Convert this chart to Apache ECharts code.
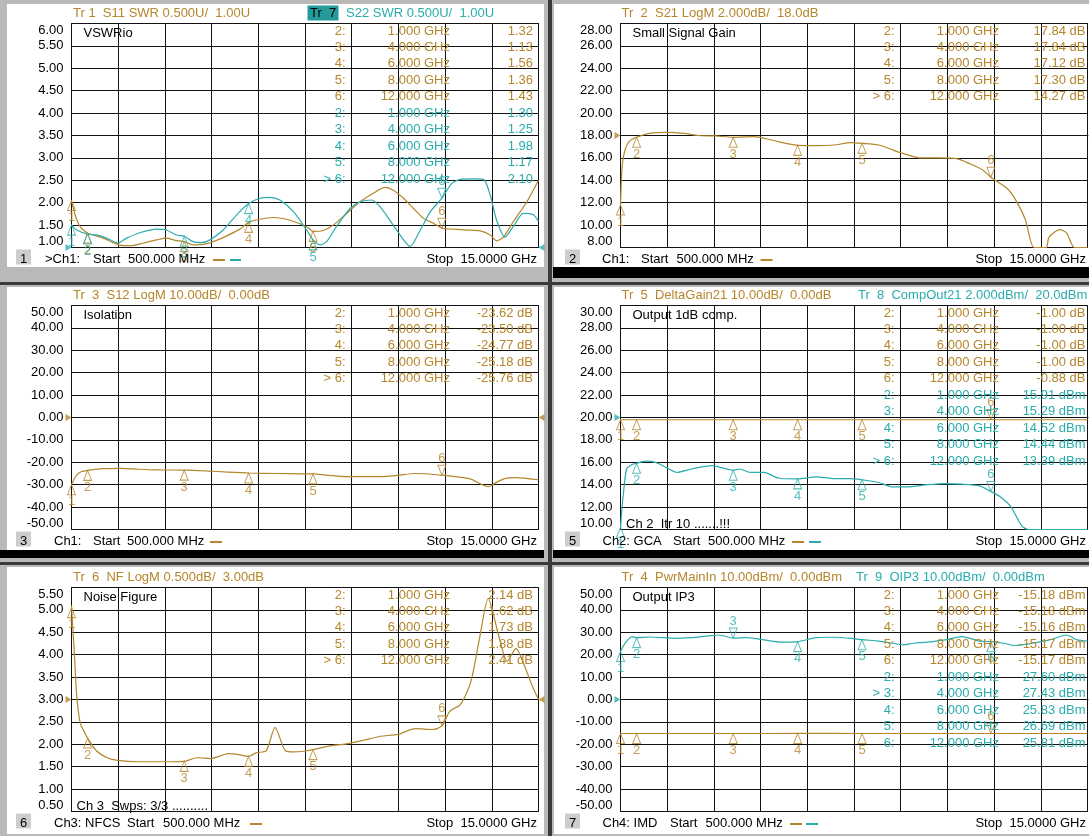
<!DOCTYPE html>
<html><head><meta charset="utf-8">
<script src="https://cdn.jsdelivr.net/npm/echarts@6.0.0/dist/echarts.min.js"></script>
<style>
html,body{margin:0;padding:0;background:#b9b9b9;}
#wrap{position:relative;width:1089px;height:836px;overflow:hidden;background:#b9b9b9;}
.bg{position:absolute;}
.w{position:absolute;background:#fff;}
#chart{position:absolute;left:0;top:0;width:1089px;height:836px;}
</style></head>
<body><div id="wrap">
<div class="bg" style="left:548px;top:0;width:4px;height:836px;background:#3a3a3a"></div>
<div class="bg" style="left:0;top:282px;width:1089px;height:3px;background:#3a3a3a"></div>
<div class="bg" style="left:0;top:562px;width:1089px;height:3px;background:#3a3a3a"></div>
<div class="bg" style="left:553px;top:267px;width:536px;height:11px;background:#000"></div>
<div class="bg" style="left:0;top:550px;width:544px;height:8px;background:#000"></div>
<div class="bg" style="left:553px;top:550px;width:536px;height:8px;background:#000"></div>
<div class="w" style="left:7px;top:4px;width:537px;height:263px"></div>
<div class="w" style="left:554px;top:4px;width:535px;height:263px"></div>
<div class="w" style="left:7px;top:287px;width:537px;height:263px"></div>
<div class="w" style="left:554px;top:287px;width:535px;height:263px"></div>
<div class="w" style="left:7px;top:567px;width:537px;height:267px"></div>
<div class="w" style="left:554px;top:567px;width:535px;height:267px"></div>
<div id="chart"></div>
</div>
<script>
// ---------------- DATA ----------------
const markerFreqs = [0.5, 1, 4, 6, 8, 12];

// Panel 1 : VSWR
const s11Freq = [0.5,0.6,0.76,1.0,1.17,1.48,1.79,2.1,2.36,2.73,3.14,3.45,3.71,4.0,4.28,4.59,4.9,5.32,5.73,6.0,6.35,6.77,7.18,7.59,7.85,8.0,8.32,8.63,9.04,9.46,9.87,10.24,10.49,10.81,11.12,11.43,11.74,12.0,12.36,12.78,13.19,13.5,13.7,13.91,14.22,14.64,15.0];
const s11Val  = [2.05,1.76,1.47,1.32,1.28,1.21,1.11,1.04,1.04,1.10,1.17,1.21,1.16,1.13,1.06,1.07,1.13,1.26,1.41,1.56,1.63,1.67,1.63,1.53,1.44,1.36,1.38,1.50,1.76,2.02,2.21,2.34,2.28,2.10,1.87,1.65,1.54,1.43,1.41,1.39,1.37,1.28,1.15,1.23,1.58,2.02,2.50];
const s22Freq = [0.5,0.66,1.0,1.28,1.59,1.95,2.21,2.62,3.14,3.45,3.76,4.0,4.28,4.54,4.8,5.21,5.63,6.0,6.35,6.66,6.97,7.39,7.8,8.0,8.22,8.42,8.73,9.15,9.46,9.82,10.08,10.49,10.81,11.01,11.33,11.64,12.0,12.31,12.57,12.98,13.29,13.5,13.7,13.96,14.22,14.53,14.84,15.0];
const s22Val  = [1.50,1.39,1.30,1.28,1.21,1.10,1.21,1.33,1.41,1.39,1.28,1.25,1.13,1.11,1.17,1.39,1.73,1.98,2.10,2.12,2.06,1.80,1.39,1.17,1.06,1.13,1.47,1.87,2.02,2.06,1.91,1.50,1.17,1.02,1.39,1.80,2.10,2.43,2.52,2.53,2.52,2.17,1.61,1.23,1.47,1.76,1.73,1.58];
const mkS11 = [2.05, 1.32, 1.13, 1.56, 1.36, 1.43];
const mkS22 = [1.50, 1.30, 1.25, 1.98, 1.17, 2.10];

// Panel 2 : Small signal gain
const s21Freq = [0.5,0.52,0.56,0.65,0.78,1.0,1.4,1.94,2.48,2.91,3.45,4.0,4.64,5.18,5.72,6.0,6.58,7.12,7.66,8.0,8.52,8.96,9.5,9.82,10.36,10.9,11.33,11.76,12.0,12.53,12.8,13.07,13.34,13.72,13.8,14.14,14.35,14.6,15.0];
const s21Val  = [11.8,13.5,15.5,16.8,17.5,17.84,18.19,18.28,18.19,18.0,17.96,17.84,17.9,17.6,17.25,17.12,17.1,17.15,17.36,17.30,17.15,16.7,16.2,16.0,16.0,15.95,15.5,14.9,14.27,13.2,12.1,10.5,8.0,8.0,8.9,9.6,9.3,8.0,8.0];
const mkS21 = [11.8, 17.84, 17.84, 17.12, 17.30, 14.27];

// Panel 3 : Isolation
const s12Freq = [0.5,0.6,0.69,0.8,1.0,1.5,2.04,2.58,3.11,4.0,4.72,5.26,6.0,6.88,8.0,8.49,9.03,10.1,10.64,11.18,12.0,12.47,12.9,13.22,13.44,13.65,13.97,14.3,14.62,15.0];
const s12Val  = [-30.0,-27.0,-25.3,-24.2,-23.62,-22.8,-22.7,-23.1,-23.4,-23.5,-23.9,-24.3,-24.77,-25.0,-25.18,-25.8,-26.4,-26.4,-25.8,-25.0,-25.76,-26.5,-27.5,-29.8,-30.9,-29.3,-27.2,-26.8,-27.2,-27.8];
const mkS12 = [-30.0, -23.62, -23.50, -24.77, -25.18, -25.76];

// Panel 5 : Output 1dB compression
const dgFreq = [0.5,1.0,4.0,6.0,8.0,11.9,12.0,12.1,13.5,15.0];
const dgVal  = [-1.0,-1.0,-1.0,-1.0,-1.0,-1.0,-0.88,-1.0,-1.0,-1.0];
const compFreq = [0.5,0.55,0.59,0.69,0.86,1.0,1.29,1.61,1.94,2.26,2.69,3.34,3.66,4.0,4.2,4.53,4.96,5.39,6.0,6.58,7.12,7.66,8.0,8.52,8.96,9.39,10.04,10.58,11.1,11.65,12.0,12.3,12.63,12.95,13.17,14.0,15.0];
const compVal  = [10.2,12.0,13.2,15.4,15.8,15.91,16.1,15.97,15.5,15.1,15.4,15.7,15.5,15.29,15.4,15.1,15.1,14.6,14.52,14.7,14.55,14.55,14.44,14.2,13.8,13.8,14.0,14.1,14.05,13.9,13.39,12.9,12.0,10.35,10.0,10.0,10.0];
const mkDG   = [-1.00, -1.00, -1.00, -1.00, -1.00, -0.88];
const mkComp = [10.2, 15.91, 15.29, 14.52, 14.44, 13.39];

// Panel 6 : Noise figure
const nfFreq = [0.5,0.59,0.66,0.77,0.91,1.0,1.28,1.61,1.93,2.58,3.33,4.0,4.4,4.83,5.37,5.69,6.0,6.23,6.55,6.82,7.15,7.41,7.74,8.0,8.49,9.03,9.56,10.1,10.64,11.18,11.72,12.0,12.25,12.58,12.9,13.17,13.44,13.54,13.76,14.03,14.3,14.51,14.83,15.0];
const nfVal  = [5.1,4.0,3.1,2.48,2.26,2.14,1.85,1.7,1.64,1.61,1.61,1.62,1.7,1.68,1.79,1.77,1.73,1.81,1.86,2.38,1.85,1.83,1.85,1.88,1.96,2.01,2.09,2.18,2.22,2.35,2.33,2.41,2.74,2.89,3.4,4.37,5.26,5.07,4.44,3.85,4.14,3.85,3.26,3.0];
const mkNF = [5.05, 2.14, 1.62, 1.73, 1.88, 2.41];

// Panel 7 : Output IP3
const pinFreq = [0.5,1.0,4.0,6.0,8.0,12.0,15.0];
const pinVal  = [-15.18,-15.18,-15.18,-15.16,-15.17,-15.17,-15.17];
const oipFreq = [0.5,0.64,0.86,1.0,1.4,1.83,2.15,2.69,3.23,3.56,4.0,4.42,4.96,5.5,6.0,6.58,7.12,7.66,8.0,8.52,8.96,9.28,9.6,10.04,10.58,11.1,11.65,12.0,12.41,12.73,13.28,13.82,14.35,14.68,15.0];
const oipVal  = [21.4,25.1,28.1,27.6,27.9,27.6,27.3,27.6,28.4,28.8,27.43,27.6,26.6,25.6,25.83,27.6,27.8,27.3,26.69,26.1,25.1,24.4,25.1,25.6,26.6,28.1,26.1,25.81,25.1,24.1,25.1,26.6,28.8,26.6,26.1];
const mkPin = [-15.18, -15.18, -15.18, -15.16, -15.17, -15.17];
const mkOip = [21.4, 27.60, 27.43, 25.83, 26.69, 25.81];

// Y scales [min, max, step]
const yP1 = [1, 6, 0.5];
const yP2 = [8, 28, 2];
const yP3 = [-50, 50, 10];
const yP5 = [10, 30, 2];
const yP5b = [-50, 50, 10];
const yP6 = [0.5, 5.5, 0.5];
const yP7 = [-50, 50, 10];

// ---------------- LAYOUT ----------------
const ORANGE = '#b5862b', CYAN = '#2aacac', TEAL = '#249a9a';
const FONTF = '"Liberation Sans", Arial, sans-serif';
const FONT = '13px ' + FONTF;
const PX = [71.5, 620.5], PY = [23.5, 305.5, 587.5], PW = 467, PH = 224;

const grid = [], xAxis = [], yAxis = [], series = [], graphic = [];

function txt(text, x, y, color, align) {
  graphic.push({type:'text', x:x, y:y, z:50, silent:true,
    style:{text:text, fill:color || '#000', font:FONT, textAlign:align || 'left', textVerticalAlign:'middle'}});
}
function rect(x, y, w, h, fill) {
  graphic.push({type:'rect', z:40, silent:true, shape:{x:x, y:y, width:w, height:h}, style:{fill:fill}});
}
function dash(x1, x2, y, color) {
  graphic.push({type:'line', z:50, silent:true, shape:{x1:x1, y1:y, x2:x2, y2:y}, style:{stroke:color, lineWidth:2}});
}

const TRI_UP = 'path://M4,0L8,9L0,9Z';
const TRI_DN = 'path://M0,0L8,0L4,9Z';
const ARR_R = 'path://M0,0L6,3.5L0,7Z';
const ARR_L = 'path://M6,0L0,3.5L6,7Z';

function addPanel(p) {
  const gi = grid.length;
  const left = PX[p.col], top = PY[p.row];
  grid.push({left:left, top:top, width:PW, height:PH, show:true, borderColor:'#111', borderWidth:1, backgroundColor:'transparent'});
  const xi = xAxis.length;
  xAxis.push({type:'value', gridIndex:gi, min:0.5, max:15, show:false});
  xAxis.push({type:'value', gridIndex:gi, min:0, max:14.5, interval:1.45,
    axisLine:{show:false}, axisTick:{show:false}, axisLabel:{show:false},
    splitLine:{show:true, lineStyle:{color:'#111', width:1}}});
  const yi = yAxis.length;
  yAxis.push({type:'value', gridIndex:gi, min:p.y[0], max:p.y[1], interval:p.y[2],
    axisLine:{show:false}, axisTick:{show:false},
    splitLine:{show:true, lineStyle:{color:'#111', width:1}},
    axisLabel:{show:true, color:'#000', fontSize:13, fontFamily:FONTF, margin:8,
      formatter:function(v){return v.toFixed(2);},
      showMinLabel:true, showMaxLabel:true,
      verticalAlignMinLabel:'bottom', verticalAlignMaxLabel:'top'}});
  let yExtra = null;
  if (p.yb) {
    yExtra = yAxis.length;
    yAxis.push({type:'value', gridIndex:gi, min:p.yb[0], max:p.yb[1], interval:p.yb[2], show:false, splitLine:{show:false}});
  }
  p.traces.forEach(function(t){
    const yIdx = t.extra ? yExtra : yi;
    series.push({type:'line', xAxisIndex:xi, yAxisIndex:yIdx, showSymbol:false, smooth:0.25, silent:true,
      lineStyle:{color:t.color, width:1.2}, itemStyle:{color:t.color}, z:3,
      data:t.f.map(function(f,i){return [f, t.v[i]];})});
    series.push({type:'scatter', xAxisIndex:xi, yAxisIndex:yIdx, clip:false, silent:true, z:6,
      symbolSize:[8,10], itemStyle:{color:'rgba(255,255,255,0)', borderColor:t.color, borderWidth:1},
      label:{show:true, formatter:'{b}', color:t.color, fontSize:13, fontFamily:FONTF},
      data:markerFreqs.map(function(f,i){
        const act = (i === t.active);
        return {name:String(i+1), value:[f, t.mk[i]], symbol: act ? TRI_DN : TRI_UP,
          symbolOffset:[0, act ? '-50%' : '50%'],
          label:{position: act ? 'top' : 'bottom', distance: act ? 0 : 0}};
      })});
  });
  // reference level arrows
  series.push({type:'scatter', xAxisIndex:xi, yAxisIndex:yi, clip:false, silent:true, z:7,
    symbolSize:[6,7], itemStyle:{color:p.refColor},
    data:[{value:[0.5, p.ref], symbol:ARR_R, symbolOffset:[-3,0]},
          {value:[15, p.ref], symbol:ARR_L, symbolOffset:[3,0]}]});

  // ---- texts ----
  const ty = 13 + 282 * p.row;
  p.title.forEach(function(s){
    if (s.box) rect(s.x - 2.5, ty - 7.5, s.box, 15, TEAL);
    txt(s.text, s.x, ty, s.color);
  });
  txt(p.label, left + 12, top + 9.8, '#000');
  // marker table
  let row = 0;
  p.traces.forEach(function(t){
    for (let i = 1; i < markerFreqs.length; i++) {
      const y = top + 7.5 + 16.45 * row;
      if (i === t.active && t.showActive) txt('>', left + 252, y, t.color);
      txt(String(i+1) + ':', left + 274, y, t.color, 'right');
      txt(markerFreqs[i].toFixed(3) + ' GHz', left + 378.5, y, t.color, 'right');
      txt(t.mk[i].toFixed(2) + t.unit, p.col === 0 ? 533 : 1085.5, y, t.color, 'right');
      row++;
    }
  });
  // bottom status line
  const by = top + 235.5;
  const bx = p.col === 0 ? 16 : 565;
  rect(bx, top + 226, 15, 15, '#cdcdcd');
  txt(String(p.num), bx + 7.5, by, '#000', 'center');
  p.bottom.forEach(function(s){ txt(s[0], s[1], by, '#000'); });
  p.dashes.forEach(function(d){ dash(d[0], d[1], by + 1, d[2]); });
  txt('Stop  15.0000 GHz', p.col === 0 ? 537 : 1086, by, '#000', 'right');
  if (p.note) txt(p.note[0], p.note[1], top + 218.5, '#000');
}

const panels = [
  {num:1, col:0, row:0, y:yP1, ref:1, refColor:CYAN, label:'VSWRio',
   title:[{text:'Tr 1  S11 SWR 0.500U/  1.00U', x:73, color:ORANGE},
          {text:'Tr  7', x:310, color:'#000', box:31},
          {text:'S22 SWR 0.500U/  1.00U', x:346, color:CYAN}],
   traces:[{f:s11Freq, v:s11Val, mk:mkS11, color:ORANGE, active:5, unit:''},
           {f:s22Freq, v:s22Val, mk:mkS22, color:CYAN, active:5, unit:'', showActive:true}],
   bottom:[['>Ch1:',45],['Start',93],['500.000 MHz',128]],
   dashes:[[213,225,ORANGE],[230,241,CYAN]]},
  {num:2, col:1, row:0, y:yP2, ref:18, refColor:ORANGE, label:'Small Signal Gain',
   title:[{text:'Tr  2  S21 LogM 2.000dB/  18.0dB', x:621.5, color:ORANGE}],
   traces:[{f:s21Freq, v:s21Val, mk:mkS21, color:ORANGE, active:5, unit:' dB', showActive:true}],
   bottom:[['Ch1:',602],['Start',641],['500.000 MHz',676.5]],
   dashes:[[760.5,772.5,ORANGE]]},
  {num:3, col:0, row:1, y:yP3, ref:0, refColor:ORANGE, label:'Isolation',
   title:[{text:'Tr  3  S12 LogM 10.00dB/  0.00dB', x:73, color:ORANGE}],
   traces:[{f:s12Freq, v:s12Val, mk:mkS12, color:ORANGE, active:5, unit:' dB', showActive:true}],
   bottom:[['Ch1:',54],['Start',93],['500.000 MHz',127]],
   dashes:[[210,222,ORANGE]]},
  {num:5, col:1, row:1, y:yP5, yb:yP5b, ref:20, refColor:CYAN, label:'Output 1dB comp.',
   title:[{text:'Tr  5  DeltaGain21 10.00dB/  0.00dB', x:621.5, color:ORANGE},
          {text:'Tr  8  CompOut21 2.000dBm/  20.0dBm', x:858, color:CYAN}],
   traces:[{f:dgFreq, v:dgVal, mk:mkDG, color:ORANGE, active:5, unit:' dB', extra:true},
           {f:compFreq, v:compVal, mk:mkComp, color:CYAN, active:5, unit:' dBm', showActive:true}],
   bottom:[['Ch2: GCA',602.5],['Start',673],['500.000 MHz',708]],
   dashes:[[792,804,ORANGE],[809,821,CYAN]],
   note:['Ch 2  Itr 10 .......!!!', 626]},
  {num:6, col:0, row:2, y:yP6, ref:3, refColor:ORANGE, label:'Noise Figure',
   title:[{text:'Tr  6  NF LogM 0.500dB/  3.00dB', x:73, color:ORANGE}],
   traces:[{f:nfFreq, v:nfVal, mk:mkNF, color:ORANGE, active:5, unit:' dB', showActive:true}],
   bottom:[['Ch3: NFCS',54],['Start',127],['500.000 MHz',163]],
   dashes:[[250,262,ORANGE]],
   note:['Ch 3  Swps: 3/3 ..........', 76.5]},
  {num:7, col:1, row:2, y:yP7, ref:0, refColor:CYAN, label:'Output IP3',
   title:[{text:'Tr  4  PwrMainIn 10.00dBm/  0.00dBm', x:621.5, color:ORANGE},
          {text:'Tr  9  OIP3 10.00dBm/  0.00dBm', x:856, color:CYAN}],
   traces:[{f:pinFreq, v:pinVal, mk:mkPin, color:ORANGE, active:5, unit:' dBm'},
           {f:oipFreq, v:oipVal, mk:mkOip, color:CYAN, active:2, unit:' dBm', showActive:true}],
   bottom:[['Ch4: IMD',602.5],['Start',670],['500.000 MHz',705.5]],
   dashes:[[790,802,ORANGE],[806,818,CYAN]]}
];
panels.forEach(addPanel);

const chart = echarts.init(document.getElementById('chart'), null, {renderer:'canvas'});
chart.setOption({backgroundColor:'transparent', animation:false, textStyle:{fontFamily:FONTF},
  grid:grid, xAxis:xAxis, yAxis:yAxis, series:series, graphic:graphic});
</script>
</body></html>
